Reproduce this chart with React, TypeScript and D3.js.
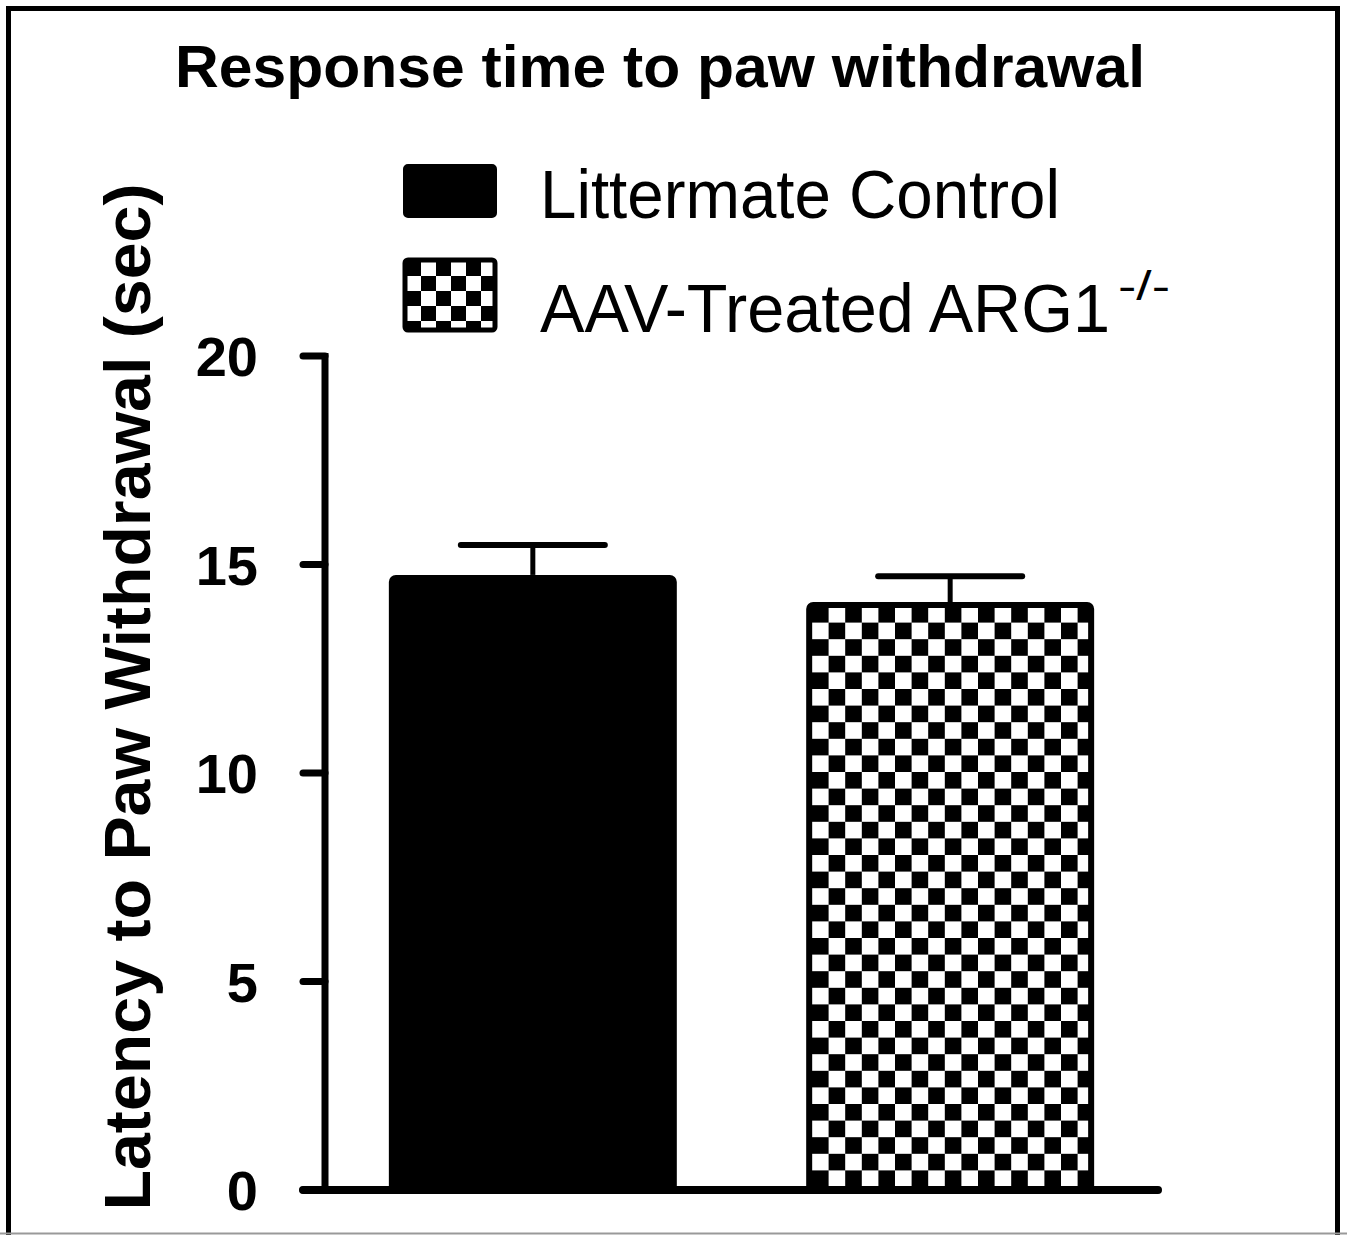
import React from 'react';
import * as d3 from 'd3';

const groups = ['Littermate Control', 'AAV-Treated ARG1'];
const means = [14.75, 14.1];
const sems = [0.72, 0.62];
const yTicks = [0, 5, 10, 15, 20];

const W = 1347;
const H = 1235;

const App = () => {
  const y = d3.scaleLinear().domain([0, 20]).range([1190, 356]);
  const x = d3.scaleBand().domain(groups).range([325, 1158]).paddingInner(0.31).paddingOuter(0.153);
  const bw = x.bandwidth();
  const font = '"Liberation Sans", Arial, sans-serif';
  const c = 16.6;

  return (
    <svg width={W} height={H} style={{ position: 'absolute', left: 0, top: 0, background: '#fff' }}>
      <defs>
        <pattern id="checker" patternUnits="userSpaceOnUse" width={2 * c} height={2 * c} x={812} y={606}>
          <rect width={2 * c} height={2 * c} fill="#fff" />
          <rect width={c} height={c} fill="#000" />
          <rect x={c} y={c} width={c} height={c} fill="#000" />
        </pattern>
        <pattern id="checkerLeg" patternUnits="userSpaceOnUse" width={30} height={30} x={406} y={261}>
          <rect width={30} height={30} fill="#fff" />
          <rect width={15} height={15} fill="#000" />
          <rect x={15} y={15} width={15} height={15} fill="#000" />
        </pattern>
      </defs>

      {/* frame */}
      <rect x={8.5} y={8.5} width={1329} height={1240} fill="none" stroke="#000" strokeWidth={5} />
      <line x1={0} x2={W} y1={1233.5} y2={1233.5} stroke="#999" strokeWidth={2} />

      <text x={660} y={87} textAnchor="middle" fontFamily={font} fontWeight="bold" fontSize={60}
        textLength={970} lengthAdjust="spacingAndGlyphs">Response time to paw withdrawal</text>

      {/* legend */}
      <rect x={405} y={166} width={90} height={50} rx={3} fill="#000" stroke="#000" strokeWidth={4} />
      <text x={540} y={218} fontFamily={font} fontSize={68} textLength={520} lengthAdjust="spacingAndGlyphs">Littermate Control</text>
      <rect x={405} y={260} width={90} height={70} rx={3} fill="url(#checkerLeg)" stroke="#000" strokeWidth={5} />
      <text x={540} y={332} fontFamily={font} fontSize={68} textLength={570} lengthAdjust="spacingAndGlyphs">AAV-Treated ARG1</text>
      <text x={1118} y={300} fontFamily={font} fontSize={40} textLength={52} lengthAdjust="spacingAndGlyphs">-/-</text>

      {/* y axis label */}
      <text transform="translate(150,697) rotate(-90)" textAnchor="middle" fontFamily={font} fontWeight="bold"
        fontSize={64} textLength={1027} lengthAdjust="spacingAndGlyphs">Latency to Paw Withdrawal (sec)</text>

      {/* bars */}
      {groups.map((g, i) => (
        <g key={g}>
          <line x1={x(g)! + bw / 2} x2={x(g)! + bw / 2} y1={y(means[i])} y2={y(means[i] + sems[i])} stroke="#000" strokeWidth={5} />
          <line x1={x(g)! + bw / 2 - 72} x2={x(g)! + bw / 2 + 72} y1={y(means[i] + sems[i])} y2={y(means[i] + sems[i])} stroke="#000" strokeWidth={6} strokeLinecap="round" />
          <rect x={x(g)! + 3} y={y(means[i]) + 3} width={bw - 6} height={y(0) - y(means[i]) - 3} rx={4}
            fill={i === 0 ? '#000' : 'url(#checker)'} stroke="#000" strokeWidth={6} />
        </g>
      ))}

      {/* axes */}
      <line x1={325} x2={325} y1={y(20) - 3} y2={y(0)} stroke="#000" strokeWidth={7} />
      {yTicks.map(t => (
        <g key={t}>
          <line x1={303} x2={325} y1={y(t)} y2={y(t)} stroke="#000" strokeWidth={7} strokeLinecap="round" />
          <text x={258} y={y(t)} dy="0.36em" textAnchor="end" fontFamily={font} fontWeight="bold" fontSize={56}>{t}</text>
        </g>
      ))}
      <line x1={303} x2={1158} y1={y(0)} y2={y(0)} stroke="#000" strokeWidth={8} strokeLinecap="round" />
    </svg>
  );
};

export default App;
